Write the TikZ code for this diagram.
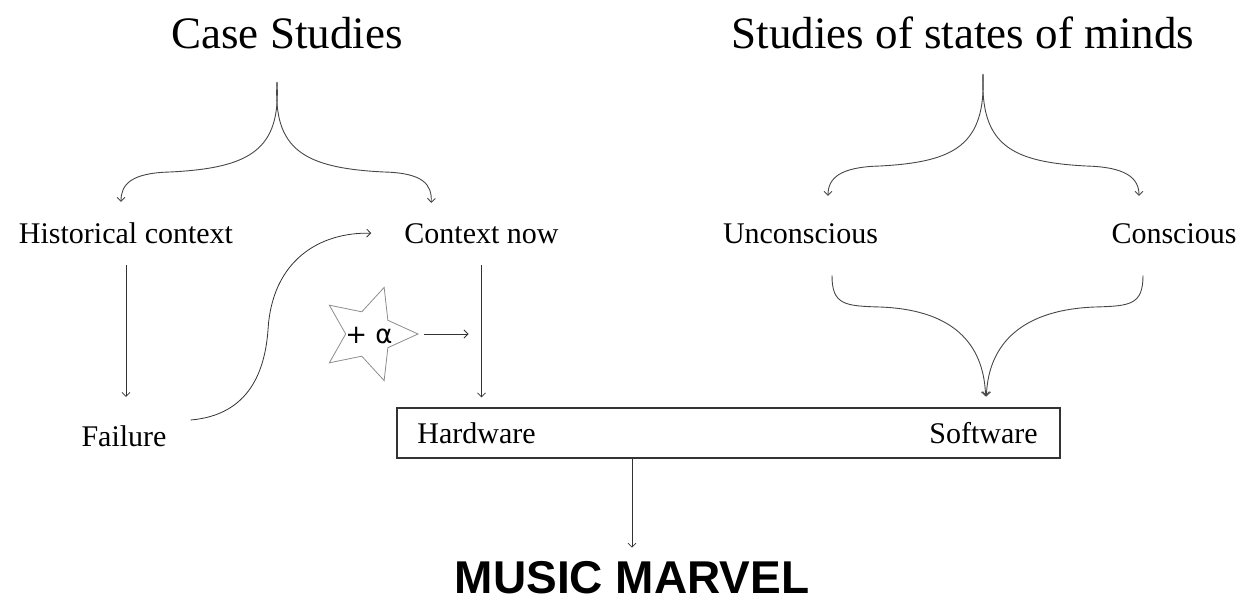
\documentclass[tikz,border=0pt]{standalone}
\usepackage{fontspec}
\setmainfont{Liberation Serif}
\newfontfamily\markersans{Liberation Sans}
\newfontfamily\alphasans{DejaVu Sans}
\usetikzlibrary{arrows.meta,shapes.geometric}
\definecolor{sketchink}{HTML}{333333}
\definecolor{sketchgrey}{HTML}{8C8C8C}

\begin{document}
\begin{tikzpicture}[x=1pt,y=-1pt,
        >={Straight Barb[length=4pt,width=8pt]},
        link/.style={->,line width=0.8pt,draw=sketchink},
        fork/.style={->,line width=0.9pt,draw=sketchink!90},
        heading/.style={anchor=base,inner sep=3pt,font=\fontsize{45}{50}\selectfont},
        item/.style={anchor=base,inner sep=3pt,font=\fontsize{30}{34}\selectfont},
        bonus/.style={star,star points=5,star point ratio=2.1,minimum size=98pt,
          inner sep=0pt,shape border rotate=-90,draw=sketchgrey,line width=0.8pt,
          font=\alphasans\fontsize{26}{30}\selectfont},
        frame/.style={draw=sketchink,line width=1.2pt,minimum width=663pt,
          minimum height=50pt,inner sep=0pt}
      ]
        \useasboundingbox (0,0) rectangle (1243,602);

        \node[heading] (cases) at (287,49) {Case Studies};
        \node[heading] (minds) at (963,49) {Studies of states of minds};

        \node[item] (hist) at (126,243) {Historical context};
        \node[item] (ctx) at (481.5,243) {Context now};
        \node[item] (uncon) at (800.5,243) {Unconscious};
        \node[item] (consc) at (1174,243) {Conscious};
        \node[item] (fail) at (124,446) {Failure};

        \node[bonus] (plus) at (369,334) {\smash{\makebox[0pt]{\raisebox{-.35em}{+ α}}}};

        \node[frame] (box) at (728.5,433) {};
        \node[item] (hw) at (476.5,443) {Hardware};
        \node[item] (sw) at (983.5,443) {Software};

        \node[anchor=base,inner sep=3pt,font=\markersans\bfseries\fontsize{46}{50}\selectfont]
          (marvel) at (632,593) {MUSIC MARVEL};

        \coordinate (casefork) at (277,82);
        \coordinate (mindfork) at (983,74);

        \draw[fork] (casefork) .. controls (281,150) and (250,168) .. (170,172)
          .. controls (130,173) and (121,185) .. ([xshift=-5pt,yshift=17pt]hist.north);
        \draw[fork] (casefork) .. controls (273,150) and (304,168) .. (384,172)
          .. controls (424,173) and (432,185) .. ([xshift=30pt,yshift=17pt]ctx.north west);

        \draw[fork] (mindfork) .. controls (986,145) and (955,162) .. (880,166)
          .. controls (840,167) and (828,178) .. ([xshift=27.5pt,yshift=24pt]uncon.north);
        \draw[fork] (mindfork) .. controls (980,145) and (1011,162) .. (1086,166)
          .. controls (1126,167) and (1139,178) .. ([xshift=-35pt,yshift=24pt]consc.north);

        \draw[link,shorten <=19pt,shorten >=25pt] (hist.south) -- (hist.south |- fail.north);
        \draw[link] ([xshift=21pt,yshift=2pt]fail.north east) .. controls (250,415) and (265,370) .. (268,330)
          .. controls (272,260) and (320,232) .. ([xshift=-30pt]ctx.west);
        \draw[link,shorten <=19pt,shorten >=10pt] (ctx.south) -- (ctx.south |- box.north);
        \draw[link,shorten <=5pt,shorten >=13pt] (plus.east) -- (plus.east -| ctx.south);

        \draw[fork,shorten >=11pt] ([xshift=31.5pt,yshift=-29pt]uncon.south) .. controls (832,305) and (845,306) .. (880,307)
          .. controls (960,310) and (984,350) .. ([xshift=2.5pt]box.north -| sw.north);
        \draw[fork,shorten >=11pt] ([xshift=-31pt,yshift=-29pt]consc.south) .. controls (1143,305) and (1130,306) .. (1095,307)
          .. controls (1015,310) and (988,350) .. ([xshift=2.5pt]box.north -| sw.north);

        \draw[link,shorten >=10pt] (box.south -| marvel.north) -- (marvel.north);
      \end{tikzpicture}
\end{document}
